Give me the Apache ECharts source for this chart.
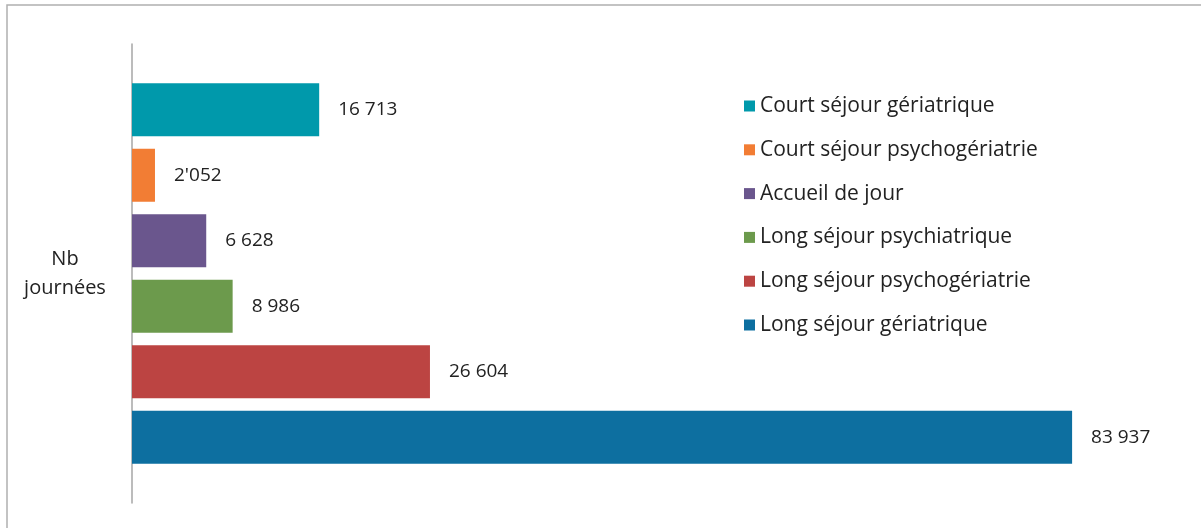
<!DOCTYPE html>
<html>
<head>
<meta charset="utf-8">
<script src="https://cdn.jsdelivr.net/npm/echarts@6/dist/echarts.min.js"></script>
<style>html,body{margin:0;padding:0;background:#fff;}#c{width:1201px;height:528px;}</style>
</head>
<body>
<div id="c"></div>
<script>
const categories = ['Nb journées'];
const seriesNames = ['Court séjour gériatrique', 'Court séjour psychogériatrie', 'Accueil de jour', 'Long séjour psychiatrique', 'Long séjour psychogériatrie', 'Long séjour gériatrique'];
const seriesValues = [16713, 2052, 6628, 8986, 26604, 83937];
const valueLabels = ['16 713', "2'052", '6 628', '8 986', '26 604', '83 937'];
const seriesColors = ['#0099ab', '#f27d34', '#6a568d', '#6c9a4c', '#bc4442', '#0d6fa0'];

const FONT = 'Open Sans';
const chart = echarts.init(document.getElementById('c'), null, {renderer: 'canvas'});
const series = seriesNames.map((name, i) => ({
  name: name,
  type: 'bar',
  data: [seriesValues[i]],
  barWidth: 53,
  barGap: '23.5%',
  itemStyle: {color: seriesColors[i]},
  label: {
    show: true,
    position: 'right',
    distance: 19,
    formatter: () => valueLabels[i],
    color: '#222',
    fontFamily: FONT,
    fontSize: 19
  }
}));
chart.setOption({
  animation: false,
  graphic: [{
    type: 'rect',
    shape: {x: 7, y: 5, width: 1300, height: 600},
    style: {fill: 'none', stroke: '#b0b0b0', lineWidth: 1.5},
    silent: true
  }],
  grid: {left: 132, right: 61, top: 44, bottom: 25, containLabel: false},
  xAxis: {
    type: 'value', min: 0, max: 90000,
    show: false
  },
  yAxis: {
    type: 'category',
    data: categories,
    inverse: true,
    axisLine: {show: true, lineStyle: {color: '#a6a6a6', width: 1.5}},
    axisTick: {show: false},
    axisLabel: {
      show: true, margin: 67, color: '#222', fontFamily: FONT, fontSize: 20,
      lineHeight: 29, align: 'center',
      formatter: v => v.replace(' ', '\n')
    }
  },
  legend: {
    orient: 'vertical',
    left: 739,
    top: 89,
    itemWidth: 11,
    itemHeight: 11,
    itemGap: 19.8,
    icon: 'rect',
    data: seriesNames,
    textStyle: {color: '#222', fontFamily: FONT, fontSize: 21, lineHeight: 24, padding: [0, 0, 0, 0]}
  },
  series: series
});
</script>
</body>
</html>
